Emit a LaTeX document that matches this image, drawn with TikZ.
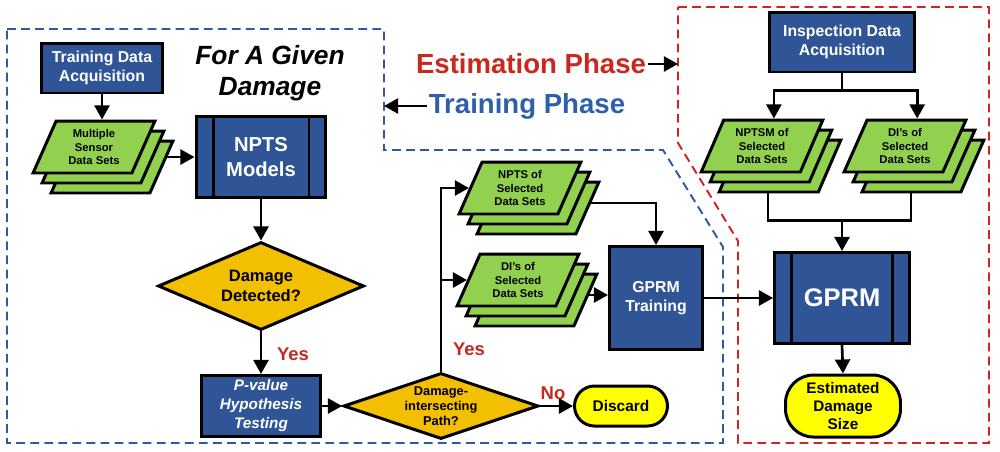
\documentclass[tikz,border=0pt]{standalone}
\usepackage{fontspec}
\setmainfont{Liberation Sans}
\usetikzlibrary{shapes.geometric,shadows,arrows.meta}

\definecolor{boxblue}{HTML}{2F5597}
\definecolor{sheetgreen}{HTML}{92D050}
\definecolor{askgold}{HTML}{F2C000}
\definecolor{endyellow}{HTML}{FFFF00}
\definecolor{phasered}{HTML}{C8281E}
\definecolor{phaseblue}{HTML}{2E5FA8}
\definecolor{dashblue}{HTML}{2E5BA0}
\definecolor{dashred}{HTML}{D42222}

\tikzset{
    blk/.style={draw=black, line width=1.7pt},
    bluebox/.style={blk, rectangle, fill=boxblue, text=white, align=center, inner sep=0pt},
    procbox/.style={bluebox, path picture={
        \draw[line width=1.7pt] ([xshift=0.34cm]path picture bounding box.north west) -- ([xshift=0.34cm]path picture bounding box.south west)
            ([xshift=-0.34cm]path picture bounding box.north east) -- ([xshift=-0.34cm]path picture bounding box.south east);}},
    sheet/.style={blk, trapezium, trapezium left angle=66, trapezium right angle=114, trapezium stretches=true,
        fill=sheetgreen, align=center, inner sep=0pt, minimum width=2.44cm, minimum height=1.04cm,
        font=\fontsize{6.4}{7.6}\selectfont\bfseries,
        copy shadow={shadow xshift=0.36cm, shadow yshift=-0.4cm, fill=sheetgreen, draw=black, line width=1.7pt},
        copy shadow={shadow xshift=0.18cm, shadow yshift=-0.2cm, fill=sheetgreen, draw=black, line width=1.7pt}},
    ask/.style={blk, diamond, fill=askgold, align=center, inner sep=0pt},
    endbox/.style={blk, rectangle, rounded corners=0.4cm, fill=endyellow, align=center, inner sep=0pt},
    arr/.style={->, >={Triangle[length=8pt,width=8.5pt]}, line width=1.5pt},
    wire/.style={line width=1.5pt},
    yesno/.style={text=phasered, inner sep=0pt, font=\fontsize{10.5}{12}\selectfont\bfseries},
    phase/.style={inner sep=1pt, font=\fontsize{15.7}{18}\selectfont\bfseries},
    bound/.style={line width=1.1pt, dash pattern=on 5pt off 3pt}
}

\begin{document}
\begin{tikzpicture}[x=0.02cm, y=-0.02cm]
                    \useasboundingbox (0,0) rectangle (1000,451);
                    % phase borders
                    \draw[bound, draw=dashblue] (7,29) -- (384,29) -- (384,150) -- (663,150) -- (723,247) -- (723,443) -- (7,443) -- cycle;
                    \draw[bound, draw=dashred] (678,7) -- (989,7) -- (989,443) -- (738,443) -- (738,241) -- (678,143) -- cycle;

                    \node[font=\fontsize{15}{18}\selectfont\bfseries\itshape, align=center] (given) at (270,73) {For A Given\\Damage};
                    \node[phase, text=phasered] (estph) at (531,64) {Estimation Phase};
                    \node[phase, text=phaseblue] (trnph) at (527,106) {Training Phase};
                    \coordinate (esttip) at (678,64);
                    \coordinate (trntip) at (384,106);
                    \draw[arr] (estph.east) -- (esttip);
                    \draw[arr] (trnph.west) -- (trntip);

                    % training phase
                    \node[bluebox, minimum width=2.44cm, minimum height=1cm, font=\fontsize{9}{10.8}\selectfont\bfseries] (tda) at (102,68) {Training Data\\Acquisition};
                    \node[sheet] (msds) at (94,147) {Multiple\\Sensor\\Data Sets};
                    \draw[arr] (tda.south) -- (tda.south |- msds.north);
                    \node[procbox, minimum width=2.6cm, minimum height=1.62cm, font=\fontsize{11.5}{14}\selectfont\bfseries] (npts) at (261,157) {NPTS\\Models};
                    \draw[arr] ([xshift=0.44cm]msds.right side |- npts.west) -- (npts.west);
                    \node[ask, aspect=2.34, minimum width=4.12cm, minimum height=1.76cm, font=\fontsize{9.4}{11.4}\selectfont\bfseries] (detect) at (261,286) {Damage\\Detected?};
                    \draw[arr] (npts.south) -- (detect.north);
                    \node[bluebox, minimum width=2.4cm, minimum height=1.22cm, font=\fontsize{8.7}{10.8}\selectfont\bfseries\itshape] (pval) at (261,406) {P-value\\Hypothesis\\Testing};
                    \draw[arr] (detect.south) -- (pval.north);
                    \node[yesno] (yes1) at (293,354) {Yes};
                    \node[ask, aspect=2.95, inner sep=-2pt, minimum width=3.9cm, minimum height=1.32cm, font=\fontsize{7.3}{8.5}\selectfont\bfseries] (cross) at (441,406) {Damage-\\intersecting\\Path?};
                    \draw[arr] (pval.east) -- (cross.west);
                    \node[endbox, minimum width=1.86cm, minimum height=0.8cm, font=\fontsize{8.8}{10}\selectfont\bfseries] (discard) at (621,406) {Discard};
                    \draw[arr] (cross.east) -- (discard.west);
                    \node[yesno] (no) at (553,393) {No};
                    \node[yesno] (yes2) at (469,349) {Yes};
                    \node[sheet] (nptssel) at (520,188) {NPTS of\\Selected\\Data Sets};
                    \node[sheet] (disel) at (518,280) {DI's of\\Selected\\Data Sets};
                    \draw[arr] (cross.north) |- (nptssel.left side);
                    \draw[arr] (cross.north |- disel.left side) -- (disel.left side);
                    \node[bluebox, minimum width=1.86cm, minimum height=2.06cm, font=\fontsize{9}{10.8}\selectfont\bfseries] (gtrain) at (656,298) {GPRM\\Training};
                    \draw[arr] ([xshift=0.4cm,yshift=-0.3cm]nptssel.right side) -| (gtrain.north);
                    \draw[arr] ([xshift=0.4cm,yshift=-0.3cm]disel.right side) coordinate (dijoin) -- (gtrain.west |- dijoin);

                    % estimation phase
                    \node[bluebox, minimum width=2.9cm, minimum height=1.2cm, font=\fontsize{9}{10.8}\selectfont\bfseries] (ida) at (842,42) {Inspection Data\\Acquisition};
                    \node[sheet] (nptsm) at (762,146) {NPTSM of\\Selected\\Data Sets};
                    \node[sheet] (diinsp) at (905,146) {DI's of\\Selected\\Data Sets};
                    \draw[wire] (ida.south) -- ++(0,17) coordinate (isplit);
                    \draw[arr] (isplit) -| (nptsm.top side);
                    \draw[arr] (isplit) -| (diinsp.top side);
                    \node[procbox, minimum width=2.7cm, minimum height=1.82cm, font=\fontsize{14.5}{17}\selectfont\bfseries] (gprm) at (842,298) {GPRM};
                    \draw[wire] ([xshift=0.36cm,yshift=-0.4cm]nptsm.bottom side) -- ++(0,27) coordinate (ijoin) -| ([xshift=0.36cm,yshift=-0.4cm]diinsp.bottom side);
                    \draw[arr] (gprm.north |- ijoin) -- (gprm.north);
                    \draw[arr] (gtrain.east) -- (gprm.west);
                    \node[endbox, rounded corners=0.56cm, minimum width=2.3cm, minimum height=1.24cm, font=\fontsize{8.7}{10.4}\selectfont\bfseries] (esize) at (843,406) {Estimated\\Damage\\Size};
                    \draw[arr] (gprm.south) -- (esize.north);
                \end{tikzpicture}
\end{document}
